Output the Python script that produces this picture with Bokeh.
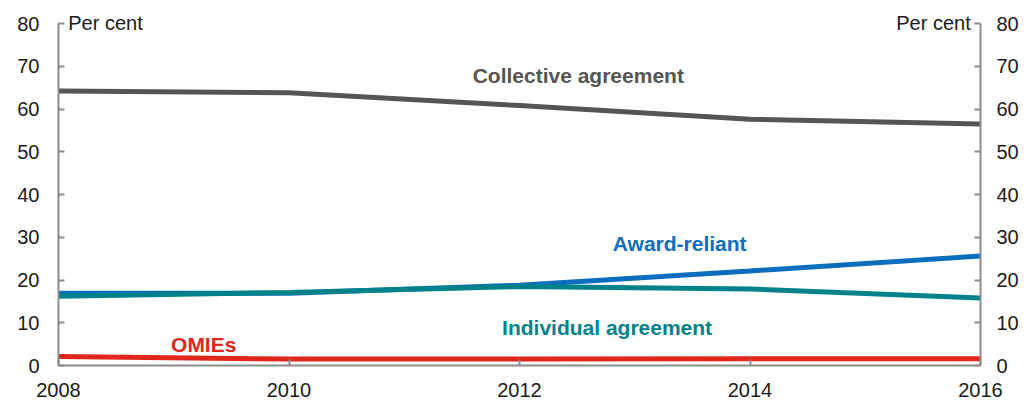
from bokeh.plotting import figure
from bokeh.models import Range1d, LinearAxis, FixedTicker, Label
from bokeh.embed import file_html
from bokeh.resources import INLINE

years = [2008, 2010, 2012, 2014, 2016]
collective = [64.2, 63.8, 60.8, 57.6, 56.5]
award = [16.9, 16.9, 18.8, 22.1, 25.6]
individual = [16.2, 17.1, 18.5, 17.9, 15.8]
omies = [2.1, 1.5, 1.5, 1.6, 1.6]

series_names = ["Collective agreement", "Award-reliant", "Individual agreement", "OMIEs"]
colors = ["#555555", "#0A6EBD", "#00828A", "#E1261C"]
y_ticks = [0, 10, 20, 30, 40, 50, 60, 70, 80]
x_ticks = years

FONT = "Liberation Sans"
AXIS_COLOR = "#8c8c8c"
FS = "20px"

# frame: 80 at y=23, 0 at y=365; extra room above 80 so the unit labels are not clipped
p = figure(width=1034, height=403, output_backend="svg", toolbar_location=None,
           x_range=Range1d(2008, 2016), y_range=Range1d(0, 80 * 353 / 342))
p.min_border_left = 58
p.min_border_right = 54
p.min_border_top = 12
p.min_border_bottom = 38
p.outline_line_color = None
p.xgrid.visible = False
p.ygrid.visible = False
p.background_fill_color = "white"
p.border_fill_color = "white"

for ys, c in zip([collective, award, individual, omies], colors):
    p.line(years, ys, line_color=c, line_width=5)

p.add_layout(LinearAxis(), "right")

for ax in p.yaxis:
    ax.ticker = FixedTicker(ticks=y_ticks)
    ax.bounds = (0, 80)
    ax.axis_line_color = AXIS_COLOR
    ax.axis_line_width = 2
    ax.major_tick_line_color = AXIS_COLOR
    ax.major_tick_line_width = 2
    ax.major_tick_in = 6
    ax.major_tick_out = 0
    ax.minor_tick_line_color = None
    ax.major_label_text_font = FONT
    ax.major_label_text_font_size = FS
    ax.major_label_text_color = "#1a1a1a"
p.yaxis[0].major_label_standoff = 19
p.yaxis[1].major_label_standoff = 16

xa = p.xaxis[0]
xa.ticker = FixedTicker(ticks=x_ticks)
xa.axis_line_color = AXIS_COLOR
xa.axis_line_width = 2
xa.major_tick_line_color = AXIS_COLOR
xa.major_tick_line_width = 2
xa.major_tick_in = 6
xa.major_tick_out = 0
xa.minor_tick_line_color = None
xa.major_label_text_font = FONT
xa.major_label_text_font_size = FS
xa.major_label_text_color = "#1a1a1a"
xa.major_label_text_line_height = 0.9
xa.major_label_standoff = 17

# unit labels
p.add_layout(Label(x=2008.05, y=80, text="Per cent", text_font=FONT, text_font_size=FS,
                   text_color="#1a1a1a", text_baseline="middle", text_align="left",
                   x_offset=4, y_offset=1))
p.add_layout(Label(x=2015.95, y=80, text="Per cent", text_font=FONT, text_font_size=FS,
                   text_color="#1a1a1a", text_baseline="middle", text_align="right",
                   x_offset=-4, y_offset=1))

label_pos = [(2012.51, 67.8), (2013.39, 28.5), (2012.76, 8.9), (2009.26, 4.9)]
for name, c, (lx, ly) in zip(series_names, colors, label_pos):
    p.add_layout(Label(x=lx, y=ly, text=name, text_font=FONT, text_font_size="21px",
                       text_font_style="bold", text_color=c, text_align="center",
                       text_baseline="middle"))

open("out.html", "w").write(file_html(p, INLINE))
